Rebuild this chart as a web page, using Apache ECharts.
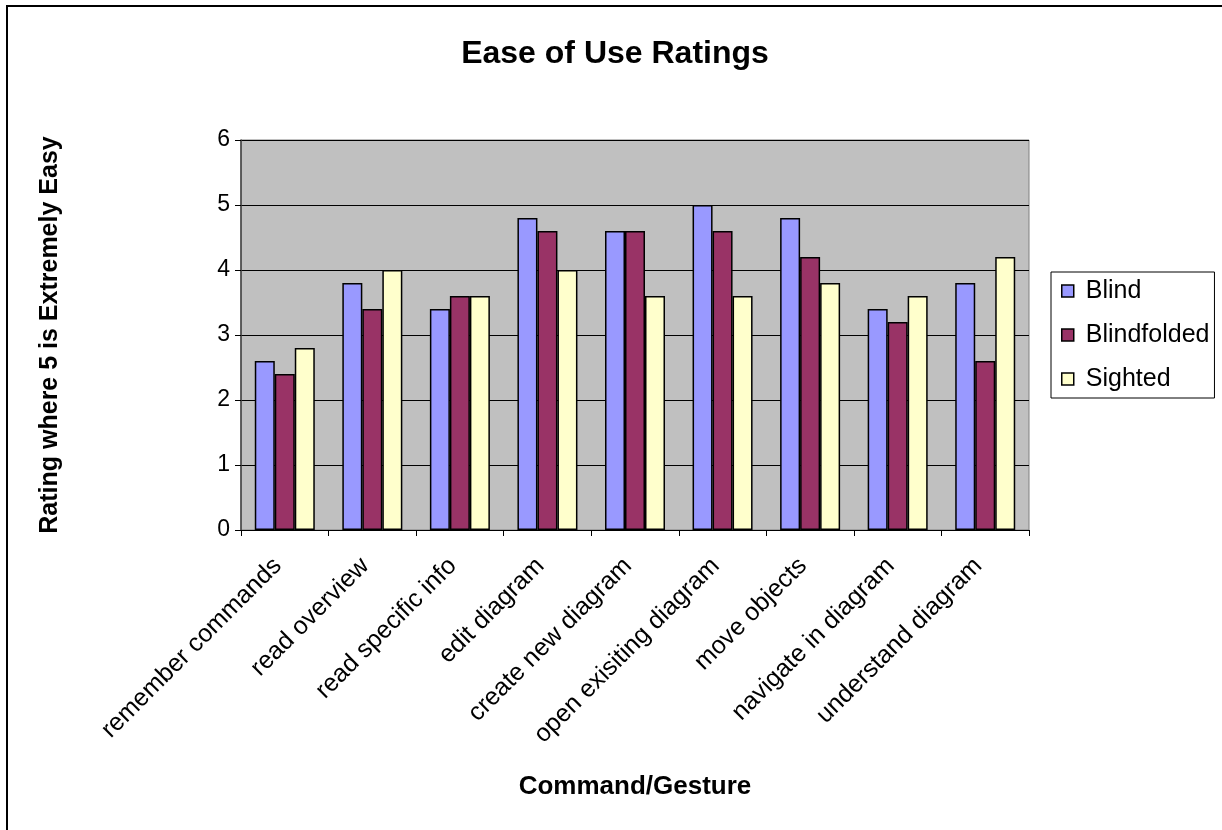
<!DOCTYPE html>
<html>
<head>
<meta charset="utf-8">
<script src="https://cdn.jsdelivr.net/npm/echarts@6/dist/echarts.min.js"></script>
<style>
  html, body { margin: 0; padding: 0; background: #fff; }
  #chart { width: 1222px; height: 830px; }
</style>
</head>
<body>
<div id="chart"></div>
<script>
// Ease-of-use ratings per command/gesture for three participant groups
const categories = [
  'remember commands', 'read overview', 'read specific info', 'edit diagram',
  'create new diagram', 'open exisiting diagram', 'move objects',
  'navigate in diagram', 'understand diagram'
];
const blind       = [2.6, 3.8, 3.4, 4.8, 4.6, 5.0, 4.8, 3.4, 3.8];
const blindfolded = [2.4, 3.4, 3.6, 4.6, 4.6, 4.6, 4.2, 3.2, 2.6];
const sighted     = [2.8, 4.0, 3.6, 4.0, 3.6, 3.6, 3.8, 3.6, 4.2];
const yTicks = [0, 1, 2, 3, 4, 5, 6];

const FONT = '"Liberation Sans", Arial, sans-serif';
const chart = echarts.init(document.getElementById('chart'), null, { renderer: 'canvas' });

function barSeries(name, data, color) {
  return {
    name: name,
    type: 'bar',
    data: data,
    barWidth: 20,
    barGap: '0%',
    itemStyle: { color: color, borderColor: '#000', borderWidth: 1.5 },
    emphasis: { disabled: true }
  };
}

chart.setOption({
  animation: false,
  backgroundColor: '#fff',
  textStyle: { fontFamily: FONT },
  graphic: [{
    type: 'rect',
    shape: { x: 7, y: 6, width: 1240, height: 850 },
    style: { fill: 'none', stroke: '#000', lineWidth: 2 },
    silent: true,
    z: 100
  }],
  title: {
    text: 'Ease of Use Ratings',
    left: 610, top: 33, textAlign: 'center',
    textStyle: { fontFamily: FONT, fontSize: 32, fontWeight: 'bold', color: '#000' }
  },
  legend: {
    orient: 'vertical',
    left: 1051, top: 272,
    padding: [6, 5, 6, 10],
    itemWidth: 12, itemHeight: 12,
    itemGap: 18,
    borderColor: '#000', borderWidth: 1,
    backgroundColor: '#fff',
    icon: 'rect',
    itemStyle: { borderColor: '#000', borderWidth: 1.5 },
    textStyle: { fontFamily: FONT, fontSize: 25, lineHeight: 26, color: '#000', padding: [0, 0, 0, 7] },
    data: ['Blind', 'Blindfolded', 'Sighted']
  },
  grid: {
    left: 241, top: 140, width: 788, height: 390,
    show: true, backgroundColor: '#c0c0c0', borderColor: '#808080', borderWidth: 1
  },
  xAxis: {
    type: 'category',
    data: categories,
    name: 'Command/Gesture',
    nameLocation: 'middle',
    nameGap: 244,
    nameTextStyle: { fontFamily: FONT, fontSize: 26, fontWeight: 'bold', color: '#000' },
    axisLine: { lineStyle: { color: '#000', width: 1 } },
    axisTick: { show: true, length: 6, alignWithLabel: false, lineStyle: { color: '#000' } },
    axisLabel: {
      rotate: 45, fontFamily: FONT, fontSize: 25, color: '#000',
      margin: 25, padding: [0, 10, 0, 0], interval: 0
    }
  },
  yAxis: {
    type: 'value',
    min: 0, max: 6, interval: 1,
    name: 'Rating where 5 is Extremely Easy',
    nameLocation: 'middle',
    nameGap: 178,
    nameRotate: 90,
    nameTextStyle: { fontFamily: FONT, fontSize: 25, fontWeight: 'bold', color: '#000' },
    axisLine: { show: true, lineStyle: { color: '#404040', width: 1.5 } },
    axisTick: { show: true, length: 6, inside: false, lineStyle: { color: '#000' } },
    axisLabel: {
      fontFamily: FONT, fontSize: 23, color: '#000', margin: 11,
      formatter: function (v) { return yTicks.indexOf(v) >= 0 ? String(v) : ''; }
    },
    splitLine: { show: true, lineStyle: { color: '#000', width: 1 } }
  },
  series: [
    barSeries('Blind', blind, '#9999ff'),
    barSeries('Blindfolded', blindfolded, '#993366'),
    barSeries('Sighted', sighted, '#ffffcc')
  ]
});
</script>
</body>
</html>
